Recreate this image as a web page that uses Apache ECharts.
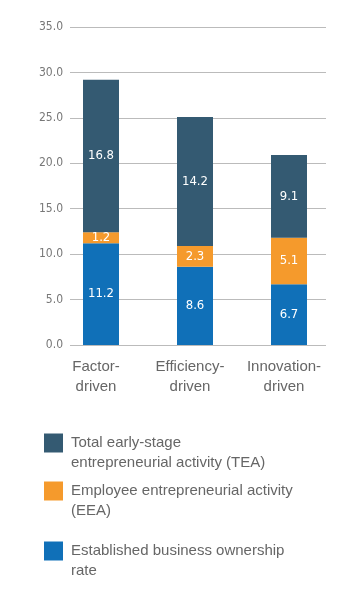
<!DOCTYPE html>
<html><head><meta charset="utf-8">
<script src="https://cdn.jsdelivr.net/npm/echarts@6/dist/echarts.min.js"></script>
<style>html,body{margin:0;padding:0;background:#fff}#c{width:362px;height:592px}</style>
</head><body><div id="c"></div>
<script>
const categories = ['Factor-\ndriven', 'Efficiency-\ndriven', 'Innovation-\ndriven'];
const ebo = [11.2, 8.6, 6.7];
const eea = [1.2, 2.3, 5.1];
const tea = [16.8, 14.2, 9.1];
const seriesNames = ['Total early-stage\nentrepreneurial activity (TEA)', 'Employee entrepreneurial activity\n(EEA)', 'Established business ownership\nrate'];
const colors = ['#345a72', '#f59a2c', '#1070b8'];
const yMin = 0, yMax = 35, yStep = 5;

const chart = echarts.init(document.getElementById('c'));
const narrow = 'DejaVu Sans Condensed, Liberation Sans Narrow, sans-serif';
const lbl = {show: true, position: 'inside', color: '#fff', fontFamily: narrow, fontSize: 13, formatter: p => p.value.toFixed(1)};
const legendText = {color: '#666', fontSize: 15, fontFamily: 'Liberation Sans, Arial, sans-serif', lineHeight: 20, padding: [0, 0, 0, 3]};
function lg(name, top) {
  return {show: true, orient: 'vertical', left: 39, top: top, itemWidth: 19, itemHeight: 19, itemGap: 0, data: [name], textStyle: legendText, selectedMode: false, icon: 'rect', formatter: n => ' \n' + n};
}
chart.setOption({
  animation: false,
  legend: [lg(seriesNames[0], 408), lg(seriesNames[1], 456), lg(seriesNames[2], 516)],
  grid: [
    {left: 54, right: 26, top: 27, bottom: 247},
    {left: 70, right: 36, top: 27, bottom: 247}
  ],
  xAxis: [
    {type: 'category', gridIndex: 0, data: categories, axisLine: {show: false}, axisTick: {show: false},
     axisLabel: {interval: 0, color: '#666', fontSize: 15, lineHeight: 20, margin: 12, padding: [0, 10, 0, 0], fontFamily: 'Liberation Sans, Arial, sans-serif'}},
    {type: 'category', gridIndex: 1, data: categories, show: false}
  ],
  yAxis: [
    {type: 'value', gridIndex: 0, min: yMin, max: yMax, interval: yStep, show: false, splitLine: {show: false}},
    {type: 'value', gridIndex: 1, min: yMin, max: yMax, interval: yStep, axisLine: {show: false}, axisTick: {show: false},
     axisLabel: {color: '#777', fontSize: 12, margin: 7, fontFamily: narrow, formatter: v => v.toFixed(1)},
     splitLine: {lineStyle: {color: '#bbb', width: 1}}}
  ],
  series: [
    {name: seriesNames[2], type: 'bar', stack: 's', data: ebo, xAxisIndex: 0, yAxisIndex: 0, barWidth: 36, itemStyle: {color: colors[2]}, label: lbl},
    {name: seriesNames[1], type: 'bar', stack: 's', data: eea, xAxisIndex: 0, yAxisIndex: 0, barWidth: 36, itemStyle: {color: colors[1]}, label: lbl},
    {name: seriesNames[0], type: 'bar', stack: 's', data: tea, xAxisIndex: 0, yAxisIndex: 0, barWidth: 36, itemStyle: {color: colors[0]}, label: lbl}
  ]
});
</script></body></html>
